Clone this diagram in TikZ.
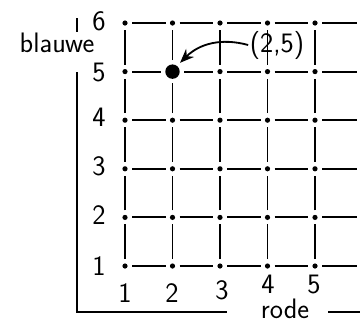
\documentclass[tikz,border=0pt]{standalone}
\usetikzlibrary{arrows.meta}
\tikzstyle{dot} = [
    circle,
    fill=black,
    inner sep=0pt,
    minimum size=0.13cm,
    outer sep=0.11cm
]
\tikzstyle{bigdot} = [
    circle,
    fill=black,
    inner sep=0pt,
    minimum size=0.36cm,
    outer sep=0.11cm
]
\tikzstyle{gridline} = [line width=1.3pt]
\tikzstyle{axis} = [line width=1.3pt]
\tikzstyle{numlabel} = [font=\sffamily\fontsize{20}{22}\selectfont, inner sep=1pt]
\tikzstyle{arrow} = [line width=1.3pt,->,>={Stealth[length=10pt,width=8pt]}]

\begin{document}
\begin{tikzpicture}[x=0.025cm, y=-0.025cm]
\useasboundingbox (0,0) rectangle (360,324);

% grid points
\foreach \i in {1,...,5}
  \foreach \j in {1,...,6}
  {
    \ifnum\i\j=25
      \node (p\i\j) [bigdot] at ({125+(\i-1)*47.5}, {266-(\j-1)*48.6}) {};
    \else
      \node (p\i\j) [dot] at ({125+(\i-1)*47.5}, {266-(\j-1)*48.6}) {};
    \fi
  }
\foreach \j in {1,...,6}
  \coordinate (e\j) at (357, {266-(\j-1)*48.6});

% grid lines
\foreach \j in {1,...,6}
{
  \foreach \i/\k in {1/2,2/3,3/4,4/5}
    \draw [gridline] (p\i\j) -- (p\k\j);
  \draw [gridline] (p5\j) -- (e\j);
}
\foreach \i in {1,...,5}
  \foreach \j/\k in {1/2,2/3,3/4,4/5,5/6}
    \draw [gridline] (p\i\j) -- (p\i\k);

% axes
\coordinate (o) at (77,312);
\draw [axis] (77,18) -- (77,32);
\draw [axis] (77,72) -- (o) -- (227,312);
\draw [axis] (328,312) -- (360,312);

% numbers
\foreach \j/\y in {1/266,2/215,3/166,4/117,5/72,6/21}
  \node (y\j) [numlabel] at (99,\y) {\j};
\foreach \i/\x/\y in {1/125/293,2/172/293,3/222/290,4/268/284,5/314/284}
  \node (x\i) [numlabel, inner sep=0pt] at (\x,\y) {\i};

\node (blauwe) [numlabel] at (57,43) {blauwe};
\node (rode) [numlabel, inner sep=0pt] at (285,309) {rode};
\node (lbl) [numlabel] at (277,45) {(2,5)};

\draw [arrow] (lbl.west) to[bend right=30] (p25);

\end{tikzpicture}
\end{document}
